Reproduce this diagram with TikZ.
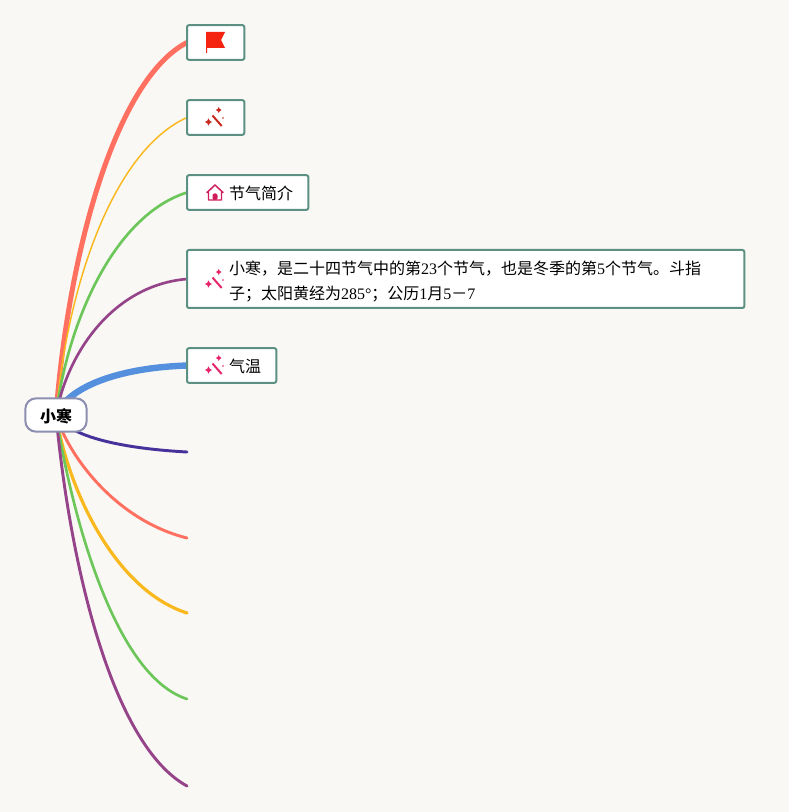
\documentclass[tikz,border=0pt]{standalone}
\usepackage{fontspec}
\usepackage{xcolor}
\setmainfont{Liberation Serif}
\newfontfamily\cjk{Noto Sans CJK SC}
\usetikzlibrary{backgrounds}
\newcommand{\lat}[1]{{\rmfamily #1}}
\newcommand{\lift}[1]{\rule{0pt}{#1}}
\definecolor{PageCream}{HTML}{F9F8F4}
\definecolor{BoxTeal}{HTML}{5C9082}
\definecolor{RootSlate}{HTML}{8C8FB0}
\definecolor{BranchCoral}{HTML}{FF7060}
\definecolor{BranchAmber}{HTML}{F9B81E}
\definecolor{BranchGreen}{HTML}{6CC65A}
\definecolor{BranchPlum}{HTML}{96448A}
\definecolor{BranchBlue}{HTML}{5590DF}
\definecolor{BranchIndigo}{HTML}{47319A}
\definecolor{IconRed}{HTML}{F52410}
\definecolor{IconBrick}{HTML}{C8281E}
\definecolor{IconPink}{HTML}{E6246C}
\definecolor{IconRose}{HTML}{D01C5C}
\tikzset{
  wandicon/.pic={
    \draw[#1,line width=1.5pt] (-2.5,-2.5)--(6.7,8);
    \foreach \sx/\sy/\sr in {-6.5/4/3.6,3.7/-8/3,8/0/1.2}{
      \fill[#1] (\sx,\sy-\sr)--(\sx+.35*\sr,\sy-.35*\sr)--(\sx+\sr,\sy)--(\sx+.35*\sr,\sy+.35*\sr)
        --(\sx,\sy+\sr)--(\sx-.35*\sr,\sy+.35*\sr)--(\sx-\sr,\sy)--(\sx-.35*\sr,\sy-.35*\sr)--cycle;
    }
  },
  flagicon/.pic={
    \fill[#1] (-9,-10)--(10,-10)--(6,-2)--(10,6)--(-8,6)--(-8,11)--(-9,11)--cycle;
  },
  houseicon/.pic={
    \draw[#1,line width=1.1pt,line join=round] (-8,-.5)--(0,-8)--(8,-.5)--(6.5,-.5)--(6.5,7)--(-6.5,7)--(-6.5,-.5)--cycle;
    \fill[#1,rounded corners=1.5pt] (-2.5,7)--(-2.5,.5)--(2.5,.5)--(2.5,7)--cycle;
  }
}
\begin{document}
\begin{tikzpicture}[x=.75pt,y=-.75pt,
  box/.style={draw=BoxTeal,line width=1.5pt,rounded corners=1.5pt,fill=white,anchor=west,inner xsep=0pt,inner ysep=0pt,outer sep=0pt,align=left,
    font=\fontsize{12}{18.75}\selectfont\cjk,execute at begin node={\leftskip=31.5pt\relax}},
  rootbox/.style={draw=RootSlate,line width=1.5pt,rounded corners=8pt,fill=white,minimum width=46pt,minimum height=25pt,inner sep=0pt,outer sep=0pt,
    font=\fontsize{12}{14}\selectfont\cjk\bfseries},
  branch/.style={line cap=round}]
  \node[rootbox] (root) at (56,415) {\lift{12.1pt}小寒};
  \node[box,text width=43pt,minimum height=26pt] (flag) at (187,42.5) {};
  \node[box,text width=43pt,minimum height=26pt] (wand) at (187,117.5) {};
  \node[box,text width=91pt,minimum height=26pt] (intro) at (187,192.5) {\lift{12.1pt}节气简介};
  \node[box,text width=418pt,minimum height=43.5pt] (brief) at (187,279) {\lift{13.6pt}小寒，是二十四节气中的第\lat{23}个节气，也是冬季的第\lat{5}个节气。斗指\\子；太阳黄经为\lat{285°}；公历\lat{1}月\lat{5}－\lat{7}};
  \node[box,text width=67pt,minimum height=26pt] (temp) at (187,365.5) {\lift{12.1pt}气温};
  \coordinate (leafa) at (187,452);
  \coordinate (leafb) at (187,538);
  \coordinate (leafc) at (187,613);
  \coordinate (leafd) at (187,699);
  \coordinate (leafe) at (187,786);
  \pic at (215,42) {flagicon=IconRed};
  \pic at (215,118) {wandicon=IconBrick};
  \pic at (215,193) {houseicon=IconRose};
  \pic at (215,280) {wandicon=IconPink};
  \pic at (215,366) {wandicon=IconPink};
  \begin{scope}[on background layer]
    \fill[PageCream] (0,0) rectangle (789,812);
    \draw[branch,BranchCoral,line width=3.75pt] (root.center) .. controls (68,255) and (115,80) .. (flag.west);
    \draw[branch,BranchAmber,line width=1.1pt] (root.center) .. controls (68,280) and (115,150) .. (wand.west);
    \draw[branch,BranchGreen,line width=2pt] (root.center) .. controls (68,320) and (115,215) .. (intro.west);
    \draw[branch,BranchPlum,line width=2pt] (root.center) .. controls (68,350) and (115,285) .. (brief.west);
    \draw[branch,BranchBlue,line width=4.8pt] (root.center) .. controls (68,388) and (115,368) .. (temp.west);
    \draw[branch,BranchIndigo,line width=2.2pt] (root.center) .. controls (68,435) and (115,448) .. (leafa);
    \draw[branch,BranchCoral,line width=2.2pt] (root.center) .. controls (68,455) and (115,520) .. (leafb);
    \draw[branch,BranchAmber,line width=2.4pt] (root.center) .. controls (68,490) and (115,590) .. (leafc);
    \draw[branch,BranchGreen,line width=2pt] (root.center) .. controls (70,505) and (112,675) .. (leafd);
    \draw[branch,BranchPlum,line width=2.2pt] (root.center) .. controls (70,565) and (112,745) .. (leafe);
  \end{scope}
\end{tikzpicture}
\end{document}
